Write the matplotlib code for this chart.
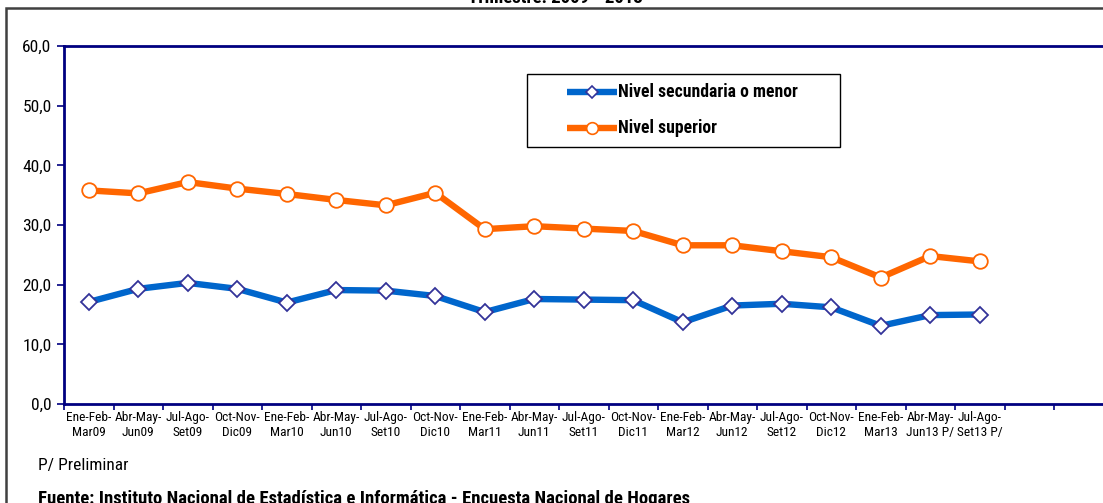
import matplotlib
matplotlib.use("Agg")
import matplotlib.pyplot as plt
from matplotlib.patches import Rectangle
from matplotlib.lines import Line2D
from matplotlib import font_manager
import numpy as np

available = {f.name for f in font_manager.fontManager.ttflist}
narrow = None
for cand in ['Liberation Sans Narrow', 'Arial Narrow', 'DejaVu Sans Condensed', 'Roboto Condensed']:
    if cand in available:
        narrow = cand
        break
families = ([narrow] if narrow else []) + ['Liberation Sans', 'DejaVu Sans']
plt.rcParams['font.family'] = families
scale = 1.0 if narrow else 0.85

categories = ["Ene-Feb-\nMar09", "Abr-May-\nJun09", "Jul-Ago-\nSet09", "Oct-Nov-\nDic09",
              "Ene-Feb-\nMar10", "Abr-May-\nJun10", "Jul-Ago-\nSet10", "Oct-Nov-\nDic10",
              "Ene-Feb-\nMar11", "Abr-May-\nJun11", "Jul-Ago-\nSet11", "Oct-Nov-\nDic11",
              "Ene-Feb-\nMar12", "Abr-May-\nJun12", "Jul-Ago-\nSet12", "Oct-Nov-\nDic12",
              "Ene-Feb-\nMar13", "Abr-May-\nJun13 P/", "Jul-Ago-\nSet13 P/"]
secundaria = [17.1, 19.3, 20.3, 19.3, 17.0, 19.1, 19.0, 18.1, 15.4, 17.6,
              17.5, 17.4, 13.7, 16.5, 16.8, 16.2, 13.1, 14.9, 15.0]
superior = [35.8, 35.3, 37.2, 36.1, 35.2, 34.2, 33.3, 35.4, 29.3, 29.8,
            29.4, 29.0, 26.6, 26.6, 25.6, 24.6, 21.2, 24.8, 23.9]
series_names = ['Nivel secundaria o menor', 'Nivel superior']
yticks = [0, 10, 20, 30, 40, 50, 60]
n_slots = 21

W, H = 1103, 503
fig = plt.figure(figsize=(W / 100, H / 100), dpi=100)


def fx(px):
    return px / W


def fy(py):
    return 1 - py / H


# outer frame (cropped on right and bottom)
fig.patches.append(Rectangle((fx(6), -0.1), 1.2, fy(8) + 0.1, transform=fig.transFigure,
                             fill=False, edgecolor='#404040', linewidth=1.8))

ax_left, ax_right = 64, 1108
ax_top, ax_bot = 46, 404
ax = fig.add_axes([fx(ax_left), fy(ax_bot), (ax_right - ax_left) / W, (ax_bot - ax_top) / H])

x = np.arange(len(categories)) + 0.5
navy = '#000080'
blue_style = dict(color='#0066CC', linewidth=4.6, marker='D', markersize=8,
                  markerfacecolor='white', markeredgecolor='#333399', markeredgewidth=1.3)
orange_style = dict(color='#FF6600', linewidth=4.6, marker='o', markersize=10.5,
                    markerfacecolor='white', markeredgecolor='#FF6600', markeredgewidth=1.3)
ax.plot(x, secundaria, zorder=3, **blue_style)
ax.plot(x, superior, zorder=3, **orange_style)

ax.set_xlim(0, (ax_right - ax_left) / 49.5)
ax.set_ylim(0, 60)
ax.set_yticks(yticks)
ax.set_yticklabels([f"{v:.1f}".replace('.', ',') for v in yticks], fontsize=12.5 * scale)
ax.set_xticks(np.arange(0, n_slots + 1))
ax.set_xticklabels([])
ax.set_xticks(x, minor=True)
ax.set_xticklabels(categories, minor=True, fontsize=9.6 * scale, linespacing=1.25)
ax.tick_params(axis='x', which='minor', length=0, pad=5)
ax.tick_params(axis='x', which='major', length=4, color=navy, width=1.2, direction='out')
ax.tick_params(axis='y', length=5, color=navy, width=1.2, direction='out', pad=4)
for s in ax.spines.values():
    s.set_color(navy)
    s.set_linewidth(2)

# legend box drawn by hand to match the reference's layout
fig.patches.append(Rectangle((fx(527), fy(147)), fx(840) - fx(527), fy(74) - fy(147),
                             transform=fig.transFigure, fill=False, edgecolor='black',
                             linewidth=1.0, zorder=5))
for name, style, ypx in [(series_names[0], blue_style, 92), (series_names[1], orange_style, 128)]:
    fig.lines.append(Line2D([fx(567), fx(617)], [fy(ypx), fy(ypx)], transform=fig.transFigure,
                            color=style['color'], linewidth=style['linewidth'], zorder=6,
                            solid_capstyle='butt'))
    fig.lines.append(Line2D([fx(592)], [fy(ypx)], transform=fig.transFigure, linestyle='none',
                            marker=style['marker'], markersize=style['markersize'] * 0.8,
                            markerfacecolor='white', markeredgecolor=style['markeredgecolor'],
                            markeredgewidth=1.2, zorder=7))
    fig.text(fx(618), fy(ypx), name, ha='left', va='center', fontsize=12.7 * scale,
             fontweight='bold', zorder=7)

# title (cropped at top)
fig.text(fx(555), fy(3), "Trimestre: 2009 - 2013", ha='center', va='baseline',
         fontsize=13.5 * scale, fontweight='bold')
fig.text(fx(38), fy(470), "P/ Preliminar", ha='left', va='baseline', fontsize=12.5 * scale)
fig.text(fx(38), fy(504), "Fuente: Instituto Nacional de Estadística e Informática - Encuesta Nacional de Hogares",
         ha='left', va='baseline', fontsize=13.5 * scale, fontweight='bold')

fig.savefig("out.png", dpi=100)
